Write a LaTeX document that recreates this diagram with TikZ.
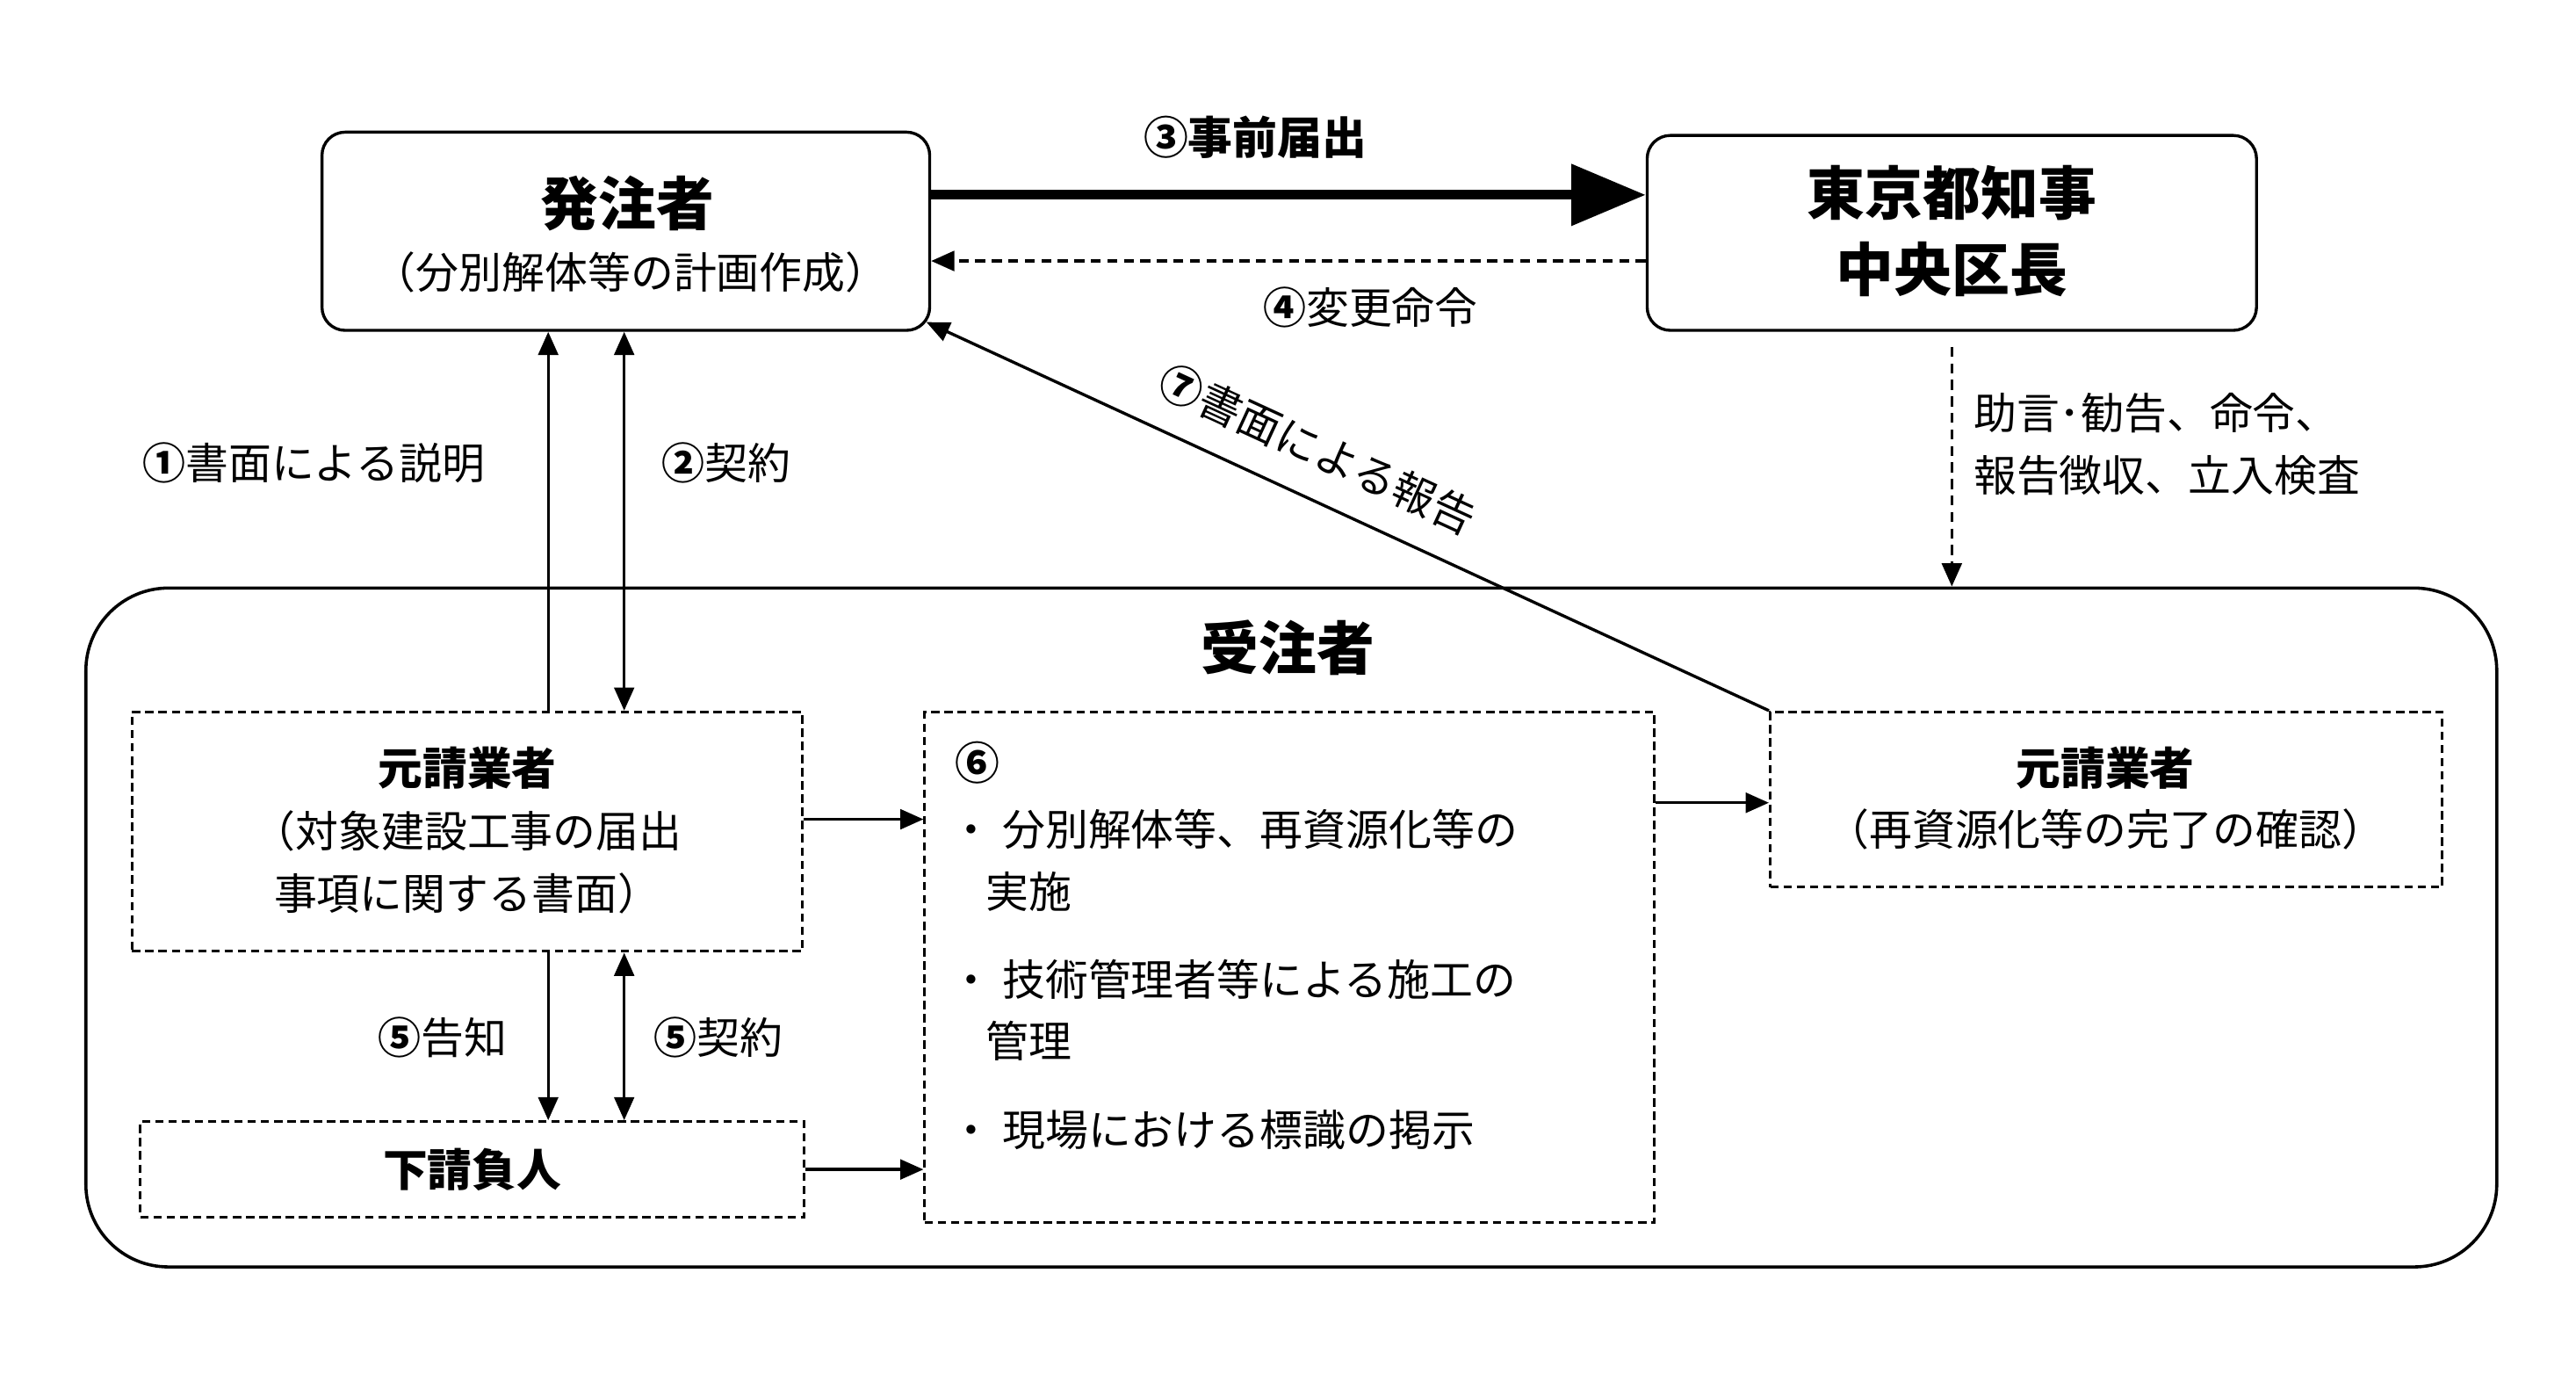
\documentclass[tikz,border=0pt]{standalone}
\usepackage{fontspec}
\setmainfont{Noto Sans CJK JP}
\usetikzlibrary{arrows.meta}
\begin{document}
\begin{tikzpicture}[x=1pt,y=-1pt,
  box/.style={draw,line width=1.8pt,rounded corners=14pt},
  dbox/.style={draw,line width=1.6pt,dash pattern=on 5pt off 3pt},
  arr/.style={line width=1.8pt,-{Triangle[length=14pt,width=12pt]}},
  darr/.style={line width=1.8pt,{Triangle[length=14pt,width=12pt]}-{Triangle[length=14pt,width=12pt]}},
  dsh/.style={dash pattern=on 6pt off 4pt},
  t/.style={font=\fontsize{26}{30}\selectfont,inner sep=0pt},
  tb/.style={font=\fontsize{27}{32}\selectfont\bfseries,inner sep=0pt},
  tt/.style={font=\fontsize{35}{40}\selectfont\bfseries,inner sep=0pt}]
\useasboundingbox (0,0) rectangle (1560,845);
% boxes
\node[box,minimum width=368pt,minimum height=120pt] (hc) at (379,140) {};
\node[tt] at (380,123) {発注者};
\node[t] at (382,165) {（分別解体等の計画作成）};
\node[box,minimum width=369pt,minimum height=118pt] (tk) at (1182,141) {};
\node[tt] at (1182,117) {東京都知事};
\node[tt] at (1182,163) {中央区長};
\node[draw,line width=1.9pt,rounded corners=50pt,minimum width=1460pt,minimum height=411pt] (jc) at (782,561.5) {};
\node[tt] at (780,392) {受注者};
\node[dbox,minimum width=406pt,minimum height=145pt] (mL) at (283,503.5) {};
\node[tb] at (283,465) {元請業者};
\node[t] at (283,503) {（対象建設工事の届出};
\node[t] at (283,541) {事項に関する書面）};
\node[dbox,minimum width=402pt,minimum height=58pt] (sh) at (286,708) {};
\node[tb] at (286,708) {下請負人};
\node[dbox,minimum width=442pt,minimum height=309pt] (b6) at (781,585.5) {};
\node[tb,anchor=west] at (578,462) {⑥};
\node[t,anchor=west] at (575,502) {・ 分別解体等、再資源化等の};
\node[t,anchor=west] at (597,540) {実施};
\node[t,anchor=west] at (575,593) {・ 技術管理者等による施工の};
\node[t,anchor=west] at (597,630) {管理};
\node[t,anchor=west] at (575,684) {・ 現場における標識の掲示};
\node[dbox,minimum width=407pt,minimum height=106pt] (mR) at (1275.5,484) {};
\node[tb] at (1275,465) {元請業者};
\node[t] at (1275,502) {（再資源化等の完了の確認）};
% connectors
\draw[line width=6pt,-{Triangle[length=45pt,width=36pt]}] (hc.east|-0,118) -- (tk.west|-0,118);
\node[tb] at (760,83) {③事前届出};
\draw[arr,dsh] (tk.west|-0,158) -- (hc.east|-0,158);
\node[t] at (830,186) {\textbf{④}変更命令};
\coordinate (d1) at (1182,210);
\draw[arr,dsh] (d1) -- (jc.north-|d1);
\node[t,anchor=west] at (1195,250) {助言･勧告、命令、};
\node[t,anchor=west] at (1195,288) {報告徴収、立入検査};
\draw[arr] (mL.north-|332,0) -- (hc.south-|332,0);
\node[t] at (190,280) {\textbf{①}書面による説明};
\draw[darr] (hc.south-|378,0) -- (mL.north-|378,0);
\node[t] at (440,280) {\textbf{②}契約};
\draw[arr] (mL.south-|332,0) -- (sh.north-|332,0);
\node[t] at (268,628) {\textbf{⑤}告知};
\draw[darr] (mL.south-|378,0) -- (sh.north-|378,0);
\node[t] at (435,628) {\textbf{⑤}契約};
\draw[arr] (mL.east|-0,496) -- (b6.west|-0,496);
\draw[arr] (sh.east|-0,708) -- (b6.west|-0,708);
\draw[arr] (b6.east|-0,486) -- (mR.west|-0,486);
\draw[arr] (mR.north west) -- (561,195);
\node[t,rotate=-24.7] at (798,272) {\textbf{⑦}書面による報告};
\end{tikzpicture}
\end{document}
